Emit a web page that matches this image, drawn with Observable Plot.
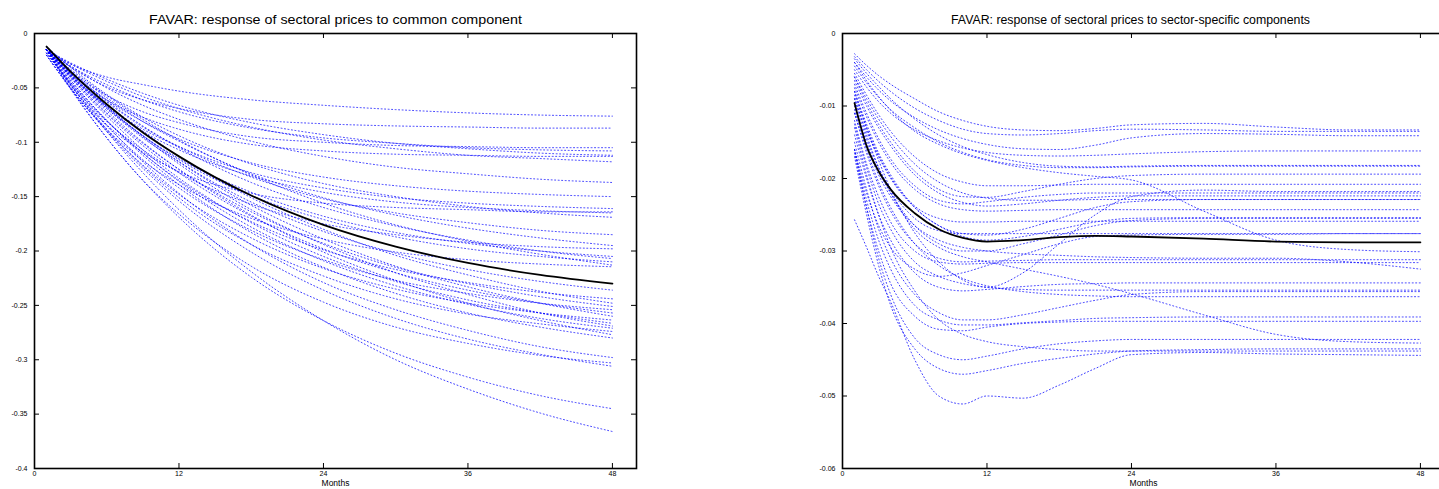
<!DOCTYPE html>
<html><head><meta charset="utf-8">
<script src="https://cdn.jsdelivr.net/npm/d3@7"></script>
<script src="https://cdn.jsdelivr.net/npm/@observablehq/plot@0.6"></script>
<style>
html,body{margin:0;padding:0;overflow:hidden;background:#fff;width:1439px;height:489px}
#left,#right{position:absolute;top:0}
#left{left:0;width:660px}
#right{left:780px;width:680px}
#left svg,#right svg{max-width:none}
#titles{position:absolute;left:0;top:0}
</style></head><body>
<div id="left"></div><div id="right"></div>
<svg id="titles" width="1439" height="32" style="font-family:'Liberation Sans',Arial,sans-serif">
<text id="t1" x="335.5" y="24" text-anchor="middle" font-size="12.5" textLength="373" lengthAdjust="spacingAndGlyphs"></text>
<text id="t2" x="1130.5" y="24" text-anchor="middle" font-size="12.5" textLength="359" lengthAdjust="spacingAndGlyphs"></text>
</svg>
<script>
const titleCommon = "FAVAR: response of sectoral prices to common component";
const titleSpecific = "FAVAR: response of sectoral prices to sector-specific components";
const xLabel = "Months";
const xTickValues = [12, 24, 36, 48];
const xLabelValues = [0, 12, 24, 36, 48];
const commonYTicks = [0, -0.05, -0.1, -0.15, -0.2, -0.25, -0.3, -0.35, -0.4];
const specificYTicks = [0, -0.01, -0.02, -0.03, -0.04, -0.05, -0.06];

const commonMonths = [1, 3, 6, 9, 12, 18, 24, 30, 36, 42, 48];
const commonMean = [-0.012,-0.035,-0.065,-0.091,-0.113,-0.149,-0.176,-0.196,-0.211,-0.222,-0.230];
const commonSectors = [
[-0.015,-0.028,-0.040,-0.047,-0.053,-0.061,-0.066,-0.070,-0.073,-0.075,-0.076],
[-0.015,-0.031,-0.049,-0.061,-0.069,-0.079,-0.083,-0.085,-0.086,-0.087,-0.087],
[-0.015,-0.035,-0.057,-0.072,-0.082,-0.095,-0.100,-0.103,-0.104,-0.105,-0.105],
[-0.015,-0.030,-0.047,-0.061,-0.072,-0.087,-0.096,-0.101,-0.105,-0.107,-0.108],
[-0.015,-0.027,-0.042,-0.055,-0.066,-0.082,-0.093,-0.101,-0.106,-0.110,-0.112],
[-0.015,-0.037,-0.061,-0.077,-0.088,-0.102,-0.108,-0.111,-0.112,-0.113,-0.113],
[-0.015,-0.028,-0.044,-0.058,-0.069,-0.086,-0.098,-0.106,-0.112,-0.115,-0.118],
[-0.015,-0.030,-0.050,-0.066,-0.079,-0.099,-0.113,-0.123,-0.129,-0.134,-0.137],
[-0.013,-0.035,-0.061,-0.081,-0.097,-0.119,-0.132,-0.140,-0.145,-0.148,-0.150],
[-0.015,-0.038,-0.066,-0.088,-0.104,-0.128,-0.142,-0.151,-0.156,-0.159,-0.161],
[-0.015,-0.048,-0.084,-0.109,-0.127,-0.147,-0.156,-0.160,-0.162,-0.164,-0.164],
[-0.015,-0.039,-0.067,-0.090,-0.107,-0.131,-0.146,-0.155,-0.160,-0.163,-0.165],
[-0.012,-0.031,-0.056,-0.077,-0.094,-0.120,-0.138,-0.150,-0.159,-0.165,-0.169],
[-0.015,-0.036,-0.063,-0.086,-0.104,-0.132,-0.152,-0.165,-0.174,-0.181,-0.185],
[-0.015,-0.034,-0.059,-0.081,-0.099,-0.129,-0.151,-0.167,-0.179,-0.188,-0.195],
[-0.018,-0.046,-0.081,-0.107,-0.128,-0.157,-0.175,-0.185,-0.192,-0.196,-0.198],
[-0.015,-0.039,-0.069,-0.094,-0.115,-0.146,-0.168,-0.183,-0.193,-0.200,-0.205],
[-0.015,-0.035,-0.062,-0.085,-0.105,-0.137,-0.160,-0.177,-0.190,-0.200,-0.207],
[-0.012,-0.037,-0.068,-0.094,-0.116,-0.149,-0.171,-0.187,-0.198,-0.205,-0.210],
[-0.015,-0.033,-0.057,-0.079,-0.098,-0.130,-0.156,-0.176,-0.191,-0.203,-0.213],
[-0.020,-0.051,-0.088,-0.117,-0.139,-0.170,-0.189,-0.201,-0.208,-0.212,-0.2145],
[-0.015,-0.038,-0.069,-0.096,-0.118,-0.155,-0.182,-0.202,-0.217,-0.228,-0.236],
[-0.015,-0.043,-0.080,-0.110,-0.135,-0.173,-0.199,-0.217,-0.229,-0.238,-0.244],
[-0.015,-0.036,-0.065,-0.090,-0.113,-0.151,-0.180,-0.204,-0.222,-0.237,-0.248],
[-0.015,-0.040,-0.073,-0.101,-0.125,-0.164,-0.193,-0.215,-0.230,-0.242,-0.251],
[-0.018,-0.047,-0.085,-0.116,-0.142,-0.181,-0.208,-0.227,-0.239,-0.248,-0.254],
[-0.015,-0.040,-0.074,-0.103,-0.128,-0.168,-0.198,-0.220,-0.236,-0.248,-0.257],
[-0.015,-0.037,-0.067,-0.094,-0.118,-0.158,-0.189,-0.214,-0.233,-0.248,-0.260],
[-0.020,-0.050,-0.089,-0.121,-0.148,-0.188,-0.216,-0.235,-0.248,-0.257,-0.2635],
[-0.015,-0.041,-0.076,-0.107,-0.133,-0.174,-0.205,-0.228,-0.245,-0.257,-0.2665],
[-0.012,-0.035,-0.067,-0.095,-0.120,-0.162,-0.194,-0.220,-0.240,-0.257,-0.269],
[-0.018,-0.045,-0.080,-0.110,-0.136,-0.178,-0.209,-0.232,-0.249,-0.262,-0.271],
[-0.015,-0.047,-0.088,-0.122,-0.151,-0.194,-0.223,-0.244,-0.258,-0.267,-0.274],
[-0.015,-0.039,-0.071,-0.100,-0.125,-0.167,-0.201,-0.227,-0.248,-0.264,-0.277],
[-0.015,-0.043,-0.080,-0.112,-0.139,-0.183,-0.215,-0.239,-0.257,-0.270,-0.280],
[-0.015,-0.051,-0.096,-0.135,-0.166,-0.214,-0.247,-0.270,-0.285,-0.296,-0.303],
[-0.015,-0.045,-0.084,-0.118,-0.147,-0.194,-0.229,-0.254,-0.273,-0.288,-0.298],
[-0.020,-0.050,-0.090,-0.124,-0.154,-0.201,-0.236,-0.262,-0.281,-0.295,-0.306],
[-0.015,-0.050,-0.096,-0.135,-0.169,-0.224,-0.264,-0.294,-0.316,-0.333,-0.345],
[-0.015,-0.047,-0.090,-0.128,-0.162,-0.219,-0.264,-0.300,-0.327,-0.349,-0.366]
];

const specificMonths = [1, 2, 3, 4, 6, 8, 10, 12, 15, 18, 21, 24, 30, 36, 42, 48];
const specificMean = [-0.0096,-0.0155,-0.0190,-0.0215,-0.0248,-0.0270,-0.0282,-0.0287,-0.0285,-0.0281,-0.0279,-0.0280,-0.0283,-0.0287,-0.0288,-0.0288];
const specificSectors = [
[-0.0028,-0.0044,-0.0058,-0.0070,-0.0090,-0.0108,-0.0120,-0.0128,-0.0133,-0.0134,-0.0131,-0.0126,-0.0124,-0.0129,-0.0133,-0.0133],
[-0.0032,-0.0050,-0.0066,-0.0080,-0.0103,-0.0120,-0.0132,-0.0138,-0.0140,-0.0138,-0.0134,-0.0132,-0.0133,-0.0135,-0.0135,-0.0135],
[-0.0040,-0.0060,-0.0078,-0.0093,-0.0116,-0.0133,-0.0145,-0.0153,-0.0159,-0.0160,-0.0154,-0.0144,-0.0138,-0.0139,-0.0141,-0.0141],
[-0.0050,-0.0074,-0.0094,-0.0110,-0.0133,-0.0148,-0.0158,-0.0164,-0.0168,-0.0169,-0.0168,-0.0166,-0.0163,-0.0162,-0.0162,-0.0162],
[-0.0045,-0.0068,-0.0088,-0.0105,-0.0130,-0.0150,-0.0164,-0.0174,-0.0182,-0.0185,-0.0185,-0.0184,-0.0183,-0.0183,-0.0183,-0.0183],
[-0.0060,-0.0095,-0.0125,-0.0150,-0.0190,-0.0215,-0.0225,-0.0226,-0.0218,-0.0208,-0.0200,-0.0196,-0.0194,-0.0194,-0.0194,-0.0194],
[-0.0055,-0.0085,-0.0112,-0.0135,-0.0170,-0.0193,-0.0205,-0.0210,-0.0210,-0.0209,-0.0208,-0.0208,-0.0208,-0.0208,-0.0208,-0.0208],
[-0.0080,-0.0130,-0.0175,-0.0215,-0.0275,-0.0315,-0.0340,-0.0350,-0.0330,-0.0290,-0.0250,-0.0225,-0.0216,-0.0218,-0.0218,-0.0218],
[-0.0070,-0.0110,-0.0145,-0.0173,-0.0210,-0.0230,-0.0235,-0.0232,-0.0226,-0.0222,-0.0220,-0.0220,-0.0220,-0.0220,-0.0220,-0.0220],
[-0.0065,-0.0100,-0.0130,-0.0155,-0.0195,-0.0220,-0.0233,-0.0238,-0.0235,-0.0230,-0.0226,-0.0224,-0.0224,-0.0224,-0.0224,-0.0224],
[-0.0090,-0.0135,-0.0170,-0.0200,-0.0240,-0.0265,-0.0276,-0.0278,-0.0270,-0.0255,-0.0240,-0.0232,-0.0229,-0.0229,-0.0229,-0.0229],
[-0.0075,-0.0115,-0.0150,-0.0178,-0.0215,-0.0235,-0.0243,-0.0245,-0.0244,-0.0243,-0.0243,-0.0243,-0.0243,-0.0243,-0.0243,-0.0243],
[-0.0100,-0.0150,-0.0190,-0.0220,-0.0265,-0.0290,-0.0300,-0.0300,-0.0290,-0.0278,-0.0265,-0.0258,-0.0255,-0.0255,-0.0255,-0.0255],
[-0.0085,-0.0130,-0.0168,-0.0198,-0.0238,-0.0255,-0.0260,-0.0260,-0.0259,-0.0259,-0.0259,-0.0259,-0.0259,-0.0259,-0.0259,-0.0259],
[-0.0095,-0.0145,-0.0185,-0.0215,-0.0255,-0.0272,-0.0276,-0.0276,-0.0276,-0.0276,-0.0276,-0.0276,-0.0276,-0.0276,-0.0276,-0.0276],
[-0.0040,-0.0065,-0.0087,-0.0106,-0.0135,-0.0153,-0.0166,-0.0175,-0.0185,-0.0192,-0.0197,-0.0202,-0.0245,-0.0285,-0.0298,-0.0301],
[-0.0110,-0.0165,-0.0210,-0.0245,-0.0290,-0.0310,-0.0315,-0.0314,-0.0313,-0.0312,-0.0312,-0.0312,-0.0312,-0.0312,-0.0312,-0.0312],
[-0.0120,-0.0180,-0.0225,-0.0260,-0.0300,-0.0315,-0.0318,-0.0317,-0.0316,-0.0316,-0.0316,-0.0316,-0.0316,-0.0316,-0.0316,-0.0316],
[-0.0105,-0.0155,-0.0195,-0.0225,-0.0265,-0.0285,-0.0295,-0.0300,-0.0304,-0.0306,-0.0308,-0.0309,-0.0310,-0.0310,-0.0315,-0.0325],
[-0.0140,-0.0200,-0.0250,-0.0285,-0.0330,-0.0350,-0.0355,-0.0353,-0.0349,-0.0346,-0.0345,-0.0344,-0.0344,-0.0344,-0.0344,-0.0344],
[-0.0125,-0.0185,-0.0235,-0.0270,-0.0315,-0.0335,-0.0345,-0.0350,-0.0353,-0.0354,-0.0354,-0.0354,-0.0354,-0.0354,-0.0354,-0.0354],
[-0.0150,-0.0215,-0.0270,-0.0310,-0.0360,-0.0385,-0.0395,-0.0395,-0.0388,-0.0378,-0.0368,-0.0360,-0.0356,-0.0356,-0.0356,-0.0356],
[-0.0110,-0.0160,-0.0205,-0.0240,-0.0290,-0.0320,-0.0338,-0.0348,-0.0356,-0.0360,-0.0362,-0.0363,-0.0363,-0.0363,-0.0363,-0.0363],
[-0.0160,-0.0230,-0.0285,-0.0325,-0.0375,-0.0395,-0.0402,-0.0402,-0.0399,-0.0396,-0.0393,-0.0392,-0.0391,-0.0391,-0.0391,-0.0391],
[-0.0090,-0.0140,-0.0185,-0.0220,-0.0270,-0.0295,-0.0308,-0.0315,-0.0325,-0.0335,-0.0346,-0.0359,-0.0388,-0.0415,-0.0425,-0.0427],
[-0.0165,-0.0240,-0.0300,-0.0345,-0.0390,-0.0408,-0.0410,-0.0405,-0.0400,-0.0398,-0.0397,-0.0397,-0.0397,-0.0397,-0.0397,-0.0397],
[-0.0160,-0.0240,-0.0310,-0.0360,-0.0420,-0.0443,-0.0450,-0.0445,-0.0435,-0.0428,-0.0424,-0.0422,-0.0422,-0.0422,-0.0422,-0.0422],
[-0.0170,-0.0250,-0.0320,-0.0375,-0.0435,-0.0462,-0.0470,-0.0465,-0.0455,-0.0448,-0.0442,-0.0438,-0.0436,-0.0435,-0.0435,-0.0435],
[-0.0257,-0.0295,-0.0335,-0.0370,-0.0450,-0.0500,-0.0511,-0.0500,-0.0503,-0.0485,-0.0462,-0.0443,-0.0440,-0.0442,-0.0443,-0.0444],
[-0.0130,-0.0195,-0.0250,-0.0295,-0.0355,-0.0395,-0.0415,-0.0425,-0.0432,-0.0436,-0.0438,-0.0438,-0.0438,-0.0438,-0.0438,-0.0438],
[-0.0060,-0.0090,-0.0118,-0.0142,-0.0180,-0.0205,-0.0220,-0.0227,-0.0230,-0.0230,-0.0229,-0.0229,-0.0229,-0.0229,-0.0229,-0.0229],
[-0.0080,-0.0125,-0.0165,-0.0195,-0.0240,-0.0265,-0.0280,-0.0285,-0.0280,-0.0270,-0.0260,-0.0255,-0.0254,-0.0254,-0.0254,-0.0254],
[-0.0035,-0.0055,-0.0073,-0.0090,-0.0118,-0.0140,-0.0156,-0.0167,-0.0178,-0.0183,-0.0184,-0.0183,-0.0182,-0.0182,-0.0182,-0.0182],
[-0.0160,-0.0220,-0.0265,-0.0295,-0.0325,-0.0335,-0.0330,-0.0320,-0.0305,-0.0290,-0.0280,-0.0278,-0.0277,-0.0277,-0.0276,-0.0276]
];

document.getElementById("t1").textContent = titleCommon;
document.getElementById("t2").textContent = titleSpecific;

function panel({months, sectors, mean, yDomain, yTicks, width, marginLeft, marginRight}) {
  const height = 489, marginTop = 33, marginBottom = 21;
  const rows = sectors.flatMap((vals, i) => months.map((m, j) => ({month: m, value: vals[j], sector: i})));
  const meanRows = months.map((m, j) => ({month: m, value: mean[j]}));
  const W = width - marginLeft - marginRight, H = height - marginTop - marginBottom;
  return Plot.plot({
    width, height, marginLeft, marginRight, marginTop, marginBottom,
    x: {domain: [0, 50]},
    y: {domain: yDomain},
    style: {fontFamily: "'Liberation Sans', Arial, sans-serif", fontSize: "7px", background: "transparent", color: "black", maxWidth: "none"},
    marks: [
      Plot.line(rows, {x: "month", y: "value", z: "sector", stroke: "#0000ff", strokeWidth: 0.9, strokeOpacity: 0.85, strokeDasharray: "1,2.5", curve: "monotone-x"}),
      Plot.line(meanRows, {x: "month", y: "value", stroke: "black", strokeWidth: 1.8, curve: "monotone-x"}),
      Plot.ruleX(xTickValues, {insetTop: H - 5, stroke: "black"}),
      Plot.ruleX(xTickValues, {insetBottom: H - 5, stroke: "black"}),
      Plot.ruleY(yTicks, {insetRight: W - 5, stroke: "black"}),
      Plot.ruleY(yTicks, {insetLeft: W - 5, stroke: "black"}),
      Plot.frame({stroke: "black", strokeWidth: 1.6}),
      Plot.axisX(xLabelValues, {tickSize: 0, tickPadding: 3, label: null}),
      Plot.axisY(yTicks, {tickSize: 0, tickPadding: 7, tickFormat: d => String(d), label: null}),
      Plot.text([xLabel], {frameAnchor: "bottom", dy: 17, fontSize: 8.5, fill: "black"})
    ]
  });
}

document.getElementById("left").append(panel({
  months: commonMonths, sectors: commonSectors, mean: commonMean,
  yDomain: [-0.4, 0], yTicks: commonYTicks, width: 660, marginLeft: 34, marginRight: 24
}));
document.getElementById("right").append(panel({
  months: specificMonths, sectors: specificSectors, mean: specificMean,
  yDomain: [-0.06, 0], yTicks: specificYTicks, width: 680, marginLeft: 62, marginRight: 16
}));
</script>
</body></html>
